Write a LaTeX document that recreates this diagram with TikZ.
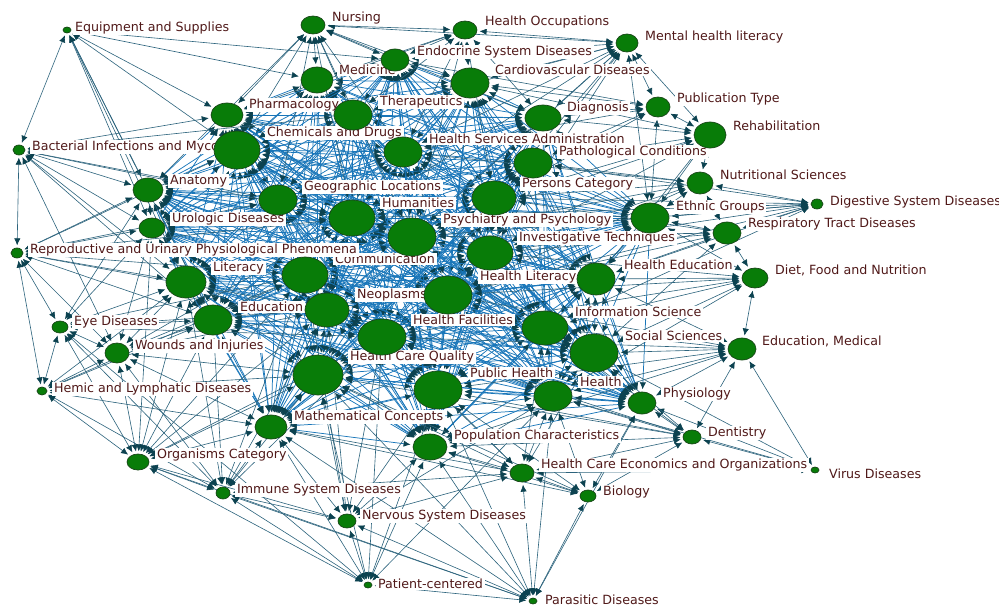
\documentclass[tikz,border=0pt]{standalone}
\usepackage{fontspec}
\setmainfont{DejaVu Sans}
\usetikzlibrary{shapes.geometric, arrows.meta}
\definecolor{vgreen}{RGB}{8, 124, 8}
\definecolor{vline}{RGB}{25, 70, 25}
\definecolor{coreblue}{RGB}{25, 118, 185}
\definecolor{edgeteal}{RGB}{45, 100, 125}
\definecolor{tipdark}{RGB}{12, 66, 80}
\definecolor{lbltext}{RGB}{80, 25, 25}
\pgfdeclarelayer{edges}
\pgfdeclarelayer{labels}
\pgfsetlayers{edges,labels,main}
\def\corelist{med,cardio,pharm,therap,diag,chem,hsa,path,geo,pers,eth,hum,psy,inv,comm,lit,hlit,hedu,edu,neo,hfac,info,soc,hcq,ph,health,anat,urol,math,pop,endo,physio}

\begin{document}
\begin{tikzpicture}[
    x=0.02cm, y=-0.02cm,
    >={Latex[length=4pt,width=3.6pt,color=tipdark]},
    vert/.style 2 args={
        ellipse,
        draw=vline,
        fill=vgreen,
        line width=0.4pt,
        inner sep=0pt,
        outer sep=1.5pt,
        minimum width=2*#1*0.02cm,
        minimum height=2*#2*0.02cm
    },
    lbl/.style={
        anchor=west,
        fill=white,
        text=lbltext,
        inner xsep=1pt,
        inner ysep=0.6pt,
        font=\fontsize{7.2}{8}\selectfont
    },
    cedge/.style={
        draw=coreblue,
        line width=0.42pt,
        <->
    },
    pedge/.style={
        draw=edgeteal,
        line width=0.35pt,
        <->
    }
]
\useasboundingbox (0,0) rectangle (999,608);

% Top row
\node[vert={4}{3}] (eqp) at (67,30) {};
\node[vert={12}{9}] (nurs) at (313,25) {};
\node[vert={12}{9}] (hocc) at (465,30) {};
\node[vert={11}{9}] (mhl) at (627,43) {};
\node[vert={14}{11}] (endo) at (395,60) {};
\node[vert={16}{13}] (med) at (317,80) {};
\node[vert={19}{15}] (cardio) at (470,83) {};
\node[vert={16}{12}] (pharm) at (227,115) {};
\node[vert={19}{15}] (therap) at (353,115) {};
\node[vert={18}{13}] (diag) at (543,118) {};
\node[vert={12}{10}] (pubt) at (658,107) {};
\node[vert={16}{13}] (rehab) at (710,135) {};
\node[vert={23}{19}] (chem) at (237,150) {};
\node[vert={19}{15}] (hsa) at (403,152) {};
\node[vert={6}{5}] (bac) at (19,150) {};
\node[vert={19}{15}] (path) at (533,163) {};
\node[vert={13}{11}] (nutr) at (700,183) {};

% Middle band
\node[vert={15}{12}] (anat) at (148,190) {};
\node[vert={19}{15}] (geo) at (278,200) {};
\node[vert={22}{17}] (pers) at (494,198) {};
\node[vert={6}{5}] (dig) at (817,204) {};
\node[vert={19}{15}] (eth) at (650,218) {};
\node[vert={23}{18}] (hum) at (352,218) {};
\node[vert={13}{10}] (urol) at (152,228) {};
\node[vert={24}{19}] (psy) at (412,237) {};
\node[vert={14}{11}] (resp) at (727,233) {};
\node[vert={6}{5}] (repro) at (17,253) {};
\node[vert={23}{17}] (inv) at (490,253) {};
\node[vert={23}{18}] (comm) at (305,275) {};
\node[vert={20}{16}] (lit) at (186,282) {};
\node[vert={24}{19}] (hlit) at (448,295) {};
\node[vert={19}{16}] (hedu) at (596,279) {};
\node[vert={13}{10}] (diet) at (755,278) {};
\node[vert={19}{15}] (edu) at (213,320) {};
\node[vert={22}{17}] (neo) at (327,310) {};
\node[vert={24}{18}] (hfac) at (382,337) {};
\node[vert={23}{17}] (info) at (545,328) {};
\node[vert={24}{19}] (soc) at (594,353) {};
\node[vert={8}{6}] (eye) at (60,327) {};
\node[vert={14}{11}] (edum) at (742,349) {};
\node[vert={12}{10}] (wound) at (117,353) {};

% Lower part
\node[vert={25}{20}] (hcq) at (318,375) {};
\node[vert={24}{19}] (ph) at (438,390) {};
\node[vert={5}{4}] (hemic) at (42,391) {};
\node[vert={19}{15}] (health) at (553,396) {};
\node[vert={14}{11}] (physio) at (642,403) {};
\node[vert={16}{12}] (math) at (271,427) {};
\node[vert={17}{13}] (pop) at (430,447) {};
\node[vert={9}{7}] (dent) at (692,437) {};
\node[vert={11}{8}] (org) at (138,462) {};
\node[vert={12}{9}] (hceo) at (522,473) {};
\node[vert={4}{3}] (virus) at (815,470) {};
\node[vert={7}{6}] (immune) at (223,493) {};
\node[vert={8}{6}] (biol) at (588,496) {};
\node[vert={9}{7}] (nerv) at (347,521) {};
\node[vert={4}{3}] (patc) at (368,585) {};
\node[vert={4}{3}] (para) at (533,601) {};

% Labels
\begin{pgfonlayer}{labels}
\node[lbl] (eqp-t) at (73,28) {Equipment and Supplies};
\node[lbl] (nurs-t) at (330,18) {Nursing};
\node[lbl] (hocc-t) at (483,22) {Health Occupations};
\node[lbl] (mhl-t) at (643,37) {Mental health literacy};
\node[lbl] (endo-t) at (415,52) {Endocrine System Diseases};
\node[lbl] (med-t) at (337,70) {Medicine};
\node[lbl] (cardio-t) at (493,70) {Cardiovascular Diseases};
\node[lbl] (pharm-t) at (247,105) {Pharmacology};
\node[lbl] (therap-t) at (378,102) {Therapeutics};
\node[lbl] (diag-t) at (565,108) {Diagnosis};
\node[lbl] (pubt-t) at (675,99) {Publication Type};
\node[lbl] (rehab-t) at (731,126) {Rehabilitation};
\node[lbl] (chem-t) at (265,133) {Chemicals and Drugs};
\node[lbl] (hsa-t) at (427,139) {Health Services Administration};
\node[lbl] (bac-t) at (30,147) {Bacterial Infections and Mycoses};
\node[lbl] (path-t) at (557,152) {Pathological Conditions};
\node[lbl] (nutr-t) at (718,175) {Nutritional Sciences};
\node[lbl] (anat-t) at (168,181) {Anatomy};
\node[lbl] (geo-t) at (302,187) {Geographic Locations};
\node[lbl] (pers-t) at (520,184) {Persons Category};
\node[lbl] (dig-t) at (828,202) {Digestive System Diseases};
\node[lbl] (eth-t) at (674,207) {Ethnic Groups};
\node[lbl] (hum-t) at (380,203) {Humanities};
\node[lbl] (urol-t) at (170,219) {Urologic Diseases};
\node[lbl] (psy-t) at (441,220) {Psychiatry and Psychology};
\node[lbl] (resp-t) at (746,224) {Respiratory Tract Diseases};
\node[lbl] (comm-t) at (333,259) {Communication};
\node[lbl] (repro-t) at (28,250) {Reproductive and Urinary Physiological Phenomena};
\node[lbl] (inv-t) at (517,238) {Investigative Techniques};
\node[lbl] (lit-t) at (211,268) {Literacy};
\node[lbl] (hlit-t) at (478,277) {Health Literacy};
\node[lbl] (hedu-t) at (622,265) {Health Education};
\node[lbl] (diet-t) at (773,270) {Diet, Food and Nutrition};
\node[lbl] (edu-t) at (238,307) {Education};
\node[lbl] (neo-t) at (355,295) {Neoplasms};
\node[lbl] (hfac-t) at (411,320) {Health Facilities};
\node[lbl] (info-t) at (573,312) {Information Science};
\node[lbl] (soc-t) at (623,336) {Social Sciences};
\node[lbl] (eye-t) at (72,322) {Eye Diseases};
\node[lbl] (edum-t) at (760,341) {Education, Medical};
\node[lbl] (wound-t) at (133,346) {Wounds and Injuries};
\node[lbl] (hcq-t) at (348,357) {Health Care Quality};
\node[lbl] (ph-t) at (468,373) {Public Health};
\node[lbl] (hemic-t) at (52,389) {Hemic and Lymphatic Diseases};
\node[lbl] (health-t) at (578,382) {Health};
\node[lbl] (physio-t) at (661,394) {Physiology};
\node[lbl] (math-t) at (292,417) {Mathematical Concepts};
\node[lbl] (pop-t) at (452,436) {Population Characteristics};
\node[lbl] (dent-t) at (706,433) {Dentistry};
\node[lbl] (org-t) at (155,455) {Organisms Category};
\node[lbl] (hceo-t) at (539,465) {Health Care Economics and Organizations};
\node[lbl] (virus-t) at (827,474) {Virus Diseases};
\node[lbl] (immune-t) at (235,490) {Immune System Diseases};
\node[lbl] (biol-t) at (601,492) {Biology};
\node[lbl] (nerv-t) at (360,516) {Nervous System Diseases};
\node[lbl] (patc-t) at (376,584) {Patient-centered};
\node[lbl] (para-t) at (543,600) {Parasitic Diseases};
\end{pgfonlayer}

% Ties
\begin{pgfonlayer}{edges}
% dense core: every pair
\foreach \a [count=\i] in \corelist {
    \foreach \b [count=\j] in \corelist {
        \ifnum\j>\i \draw[cedge] (\a) -- (\b); \fi
    }
}
% outer ring
\foreach \t in {bac,anat,urol,chem,endo,pharm,lit,edu,med} \draw[pedge] (eqp) -- (\t);
\foreach \t in {hocc,mhl,endo,med,pharm,chem,therap,anat,cardio,hsa,geo,hum,diag,psy} \draw[pedge] (nurs) -- (\t);
\foreach \t in {mhl,endo,cardio,med,therap,diag,hsa,psy,pharm,pers} \draw[pedge] (hocc) -- (\t);
\foreach \t in {endo,cardio,diag,pubt,rehab,path,pers,eth,hsa,inv,therap,psy,hum} \draw[pedge] (mhl) -- (\t);
\foreach \t in {rehab,diag,cardio,path,eth,pers,endo,hsa} \draw[pedge] (pubt) -- (\t);
\foreach \t in {nutr,cardio,path,pers,eth,diag,inv,hedu,psy} \draw[pedge] (rehab) -- (\t);
\foreach \t in {dig,eth,resp,path,pers,inv,psy,hsa,hlit} \draw[pedge] (nutr) -- (\t);
\foreach \t in {eth,resp,pers,path,inv,psy,hedu,hlit,info,hum} \draw[pedge] (dig) -- (\t);
\foreach \t in {diet,eth,inv,hedu,pers,hlit,soc,psy} \draw[pedge] (resp) -- (\t);
\foreach \t in {hedu,info,soc,edum,eth,inv,hlit,health,hfac} \draw[pedge] (diet) -- (\t);
\foreach \t in {soc,info,health,physio,dent,virus,hedu,ph,hfac,pop,hlit} \draw[pedge] (edum) -- (\t);
\foreach \t in {dent,physio,soc,hceo,health} \draw[pedge] (virus) -- (\t);
\foreach \t in {physio,soc,health,pop,hceo,biol,info,ph,hcq,hfac} \draw[pedge] (dent) -- (\t);
\foreach \t in {hceo,pop,health,physio,para,math,ph,hcq} \draw[pedge] (biol) -- (\t);
\foreach \t in {pop,health,ph,para,nerv,math,immune,hcq,soc,info,hfac} \draw[pedge] (hceo) -- (\t);
\foreach \t in {pop,math,nerv,org,immune,patc,physio,hcq,health,ph} \draw[pedge] (para) -- (\t);
\foreach \t in {nerv,immune,org,math,pop,hcq,ph,health,eye,hfac} \draw[pedge] (patc) -- (\t);
\foreach \t in {immune,math,pop,hcq,ph,hfac,org,neo,health,comm} \draw[pedge] (nerv) -- (\t);
\foreach \t in {org,math,hemic,wound,eye,edu,lit,hcq,neo,comm,hfac} \draw[pedge] (immune) -- (\t);
\foreach \t in {hemic,eye,wound,math,edu,lit,hcq,comm,neo,urol,hfac} \draw[pedge] (org) -- (\t);
\foreach \t in {eye,wound,repro,math,lit,edu,hcq,comm} \draw[pedge] (hemic) -- (\t);
\foreach \t in {eye,lit,edu,math,repro,urol,comm,neo,hcq,hum} \draw[pedge] (wound) -- (\t);
\foreach \t in {repro,lit,edu,comm,neo,urol,anat,hfac} \draw[pedge] (eye) -- (\t);
\foreach \t in {bac,lit,edu,anat,urol,comm,chem,geo,hum,neo} \draw[pedge] (repro) -- (\t);
\foreach \t in {anat,urol,chem,lit,edu,geo,pharm,therap,wound,hum} \draw[pedge] (bac) -- (\t);
\end{pgfonlayer}

\end{tikzpicture}
\end{document}
